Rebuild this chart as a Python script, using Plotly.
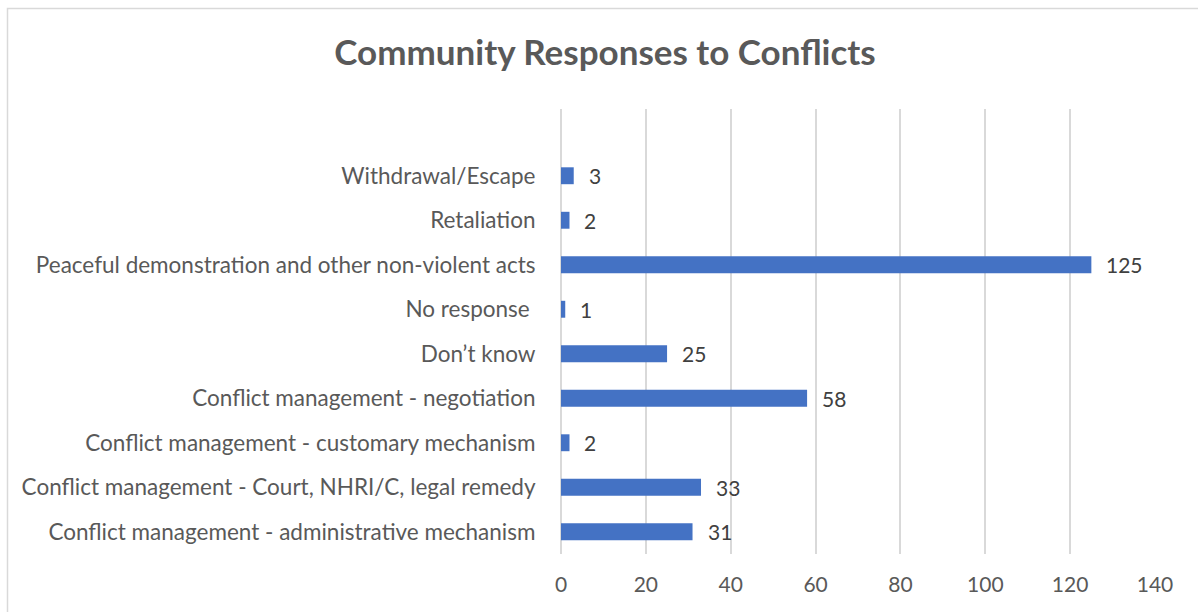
import plotly.graph_objects as go

# Responses, listed bottom to top as they appear on the category axis
categories = [
    "Conflict management - administrative mechanism",
    "Conflict management - Court, NHRI/C, legal remedy",
    "Conflict management - customary mechanism",
    "Conflict management - negotiation",
    "Don\u2019t know",
    "No response\u00a0",
    "Peaceful demonstration and other non-violent acts",
    "Retaliation",
    "Withdrawal/Escape",
]
counts = [31, 33, 2, 58, 25, 1, 125, 2, 3]
x_ticks = [0, 20, 40, 60, 80, 100, 120, 140]

W, H = 1198, 612
ML, MR, MT, MB = 561, 43, 109, 58
PW, PH = W - ML - MR, H - MT - MB

FONT = "Lato, Calibri, Carlito, sans-serif"
TEXT = "#595959"
BAR = "#4472C4"
GRID = "#D9D9D9"

positions = list(range(len(categories)))

fig = go.Figure(
    go.Bar(
        x=counts,
        y=positions,
        orientation="h",
        width=0.38,
        marker=dict(color=BAR, line=dict(width=0)),
        hoverinfo="skip",
    )
)

# value labels to the right of each bar
for pos, val in zip(positions, counts):
    fig.add_annotation(
        x=val, y=pos, text=str(val), showarrow=False,
        xanchor="left", yanchor="middle", xshift=13,
        font=dict(family=FONT, size=21, color="#404040"),
    )

# chart-area frame (light grey outline)
def px_x(px):
    return (px - ML) / PW

def px_y(py):
    return (H - MB - py) / PH

fig.add_shape(
    type="rect", xref="paper", yref="paper",
    x0=px_x(7.5), x1=px_x(W + 5), y0=px_y(H + 5), y1=px_y(8.5),
    line=dict(color=GRID, width=1.5), fillcolor="rgba(0,0,0,0)", layer="below",
)

fig.update_layout(
    width=W, height=H,
    margin=dict(l=ML, r=MR, t=MT, b=MB, pad=0),
    paper_bgcolor="white", plot_bgcolor="white",
    showlegend=False,
    title=dict(
        text="<b>Community Responses to Conflicts</b>",
        x=605 / W, xanchor="center",
        y=1 - 53 / H, yanchor="middle",
        font=dict(family=FONT, size=35, color=TEXT),
    ),
    xaxis=dict(
        range=[0, 140], tickvals=x_ticks, showgrid=True, gridcolor=GRID, gridwidth=1.5,
        zeroline=True, zerolinecolor=GRID, zerolinewidth=1.5, showline=False,
        ticks="outside", ticklen=12, tickcolor="rgba(0,0,0,0)",
        tickfont=dict(family=FONT, size=21, color=TEXT), fixedrange=True,
    ),
    yaxis=dict(
        range=[-0.5, 9.5], tickvals=positions, ticktext=categories,
        showgrid=False, zeroline=False, showline=False,
        ticks="outside", ticklen=20, tickcolor="rgba(0,0,0,0)",
        tickfont=dict(family=FONT, size=22.5, color=TEXT), fixedrange=True,
    ),
)

fig.write_html("out.html")
